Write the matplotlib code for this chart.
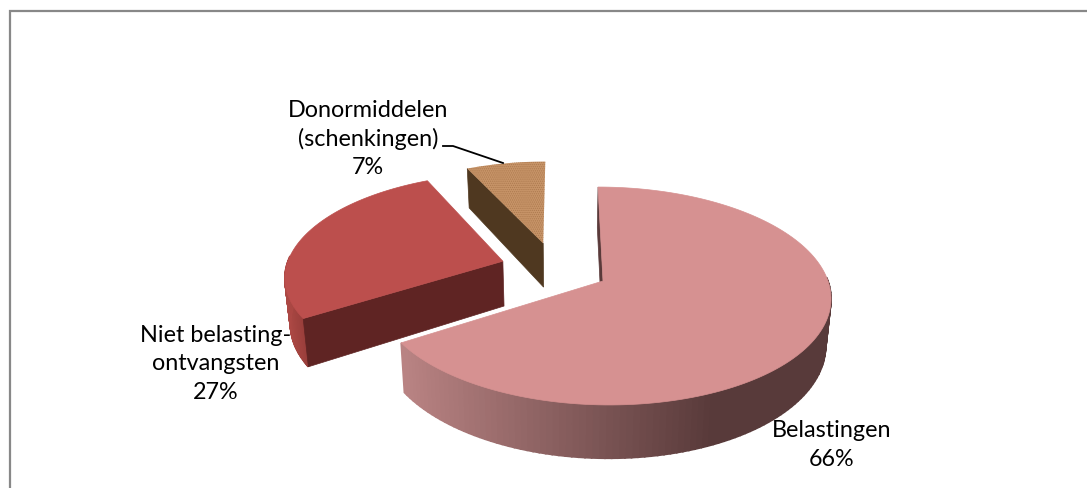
import numpy as np
import matplotlib
matplotlib.use('Agg')
import matplotlib.pyplot as plt
from matplotlib.patches import Polygon

plt.rcParams['font.family'] = ['Lato', 'DejaVu Sans']
plt.rcParams['hatch.linewidth'] = 0.6

labels = ['Belastingen\n66%', 'Niet belasting-\nontvangsten\n27%', 'Donormiddelen\n(schenkingen)\n7%']
values = [66, 27, 7]

top_colors = ['#d69191', '#bc4f4d', '#c79468']
face_colors = ['#5a3a3a', '#5f2423', '#4f3820']
rim_left = [np.array([186, 132, 132]) / 255, np.array([172, 72, 68]) / 255, np.array([80, 56, 32]) / 255]
rim_right = [np.array([88, 58, 58]) / 255, np.array([110, 40, 38]) / 255, np.array([80, 56, 32]) / 255]

# explode of each slice and its radius, in units of the pie radius
offsets = [(0.0, 0.0), (-0.452, -0.19), (-0.27, -0.37)]
radius = [1.0, 0.98, 0.95]

# the pie drawn in perspective, all in pixels of the picture
cx, cy = 603, 282
rx, ry = 225, 106.9
vx = 562
k = 0.1376
depth = 46


def project(u, v, bottom=False):
    s = 1 / (1 - k * v)
    if bottom:
        return vx + (cx - vx + rx * u) * s * 0.98, cy + ry * v * s + depth * s
    return vx + (cx - vx + rx * u) * s, cy + ry * v * s


fig = plt.figure(figsize=(10.87, 4.89), dpi=100)
ax = fig.add_axes([0, 0, 1, 1])
ax.set_xlim(0, 1087)
ax.set_ylim(489, 0)
ax.axis('off')

# frame, cut off at the bottom and on the right
ax.plot([10, 10, 1087], [489, 12, 12], color='#888888', lw=1.6, solid_joinstyle='miter')

for i in [2, 1, 0]:
    start = sum(values[:i]) / sum(values) * 2 * np.pi
    end = sum(values[:i + 1]) / sum(values) * 2 * np.pi
    du, dv = offsets[i]
    th = np.linspace(start, end, 160)
    u = radius[i] * np.sin(th) + du
    v = -radius[i] * np.cos(th) + dv
    tx, ty = project(u, v)
    bx, by = project(u, v, bottom=True)
    ax_x, ax_y = project(du, dv)
    ab_x, ab_y = project(du, dv, bottom=True)

    # outer side, shaded from left to right, only the part towards the viewer
    span = 315 if i == 0 else 60
    for j in range(len(th) - 1):
        if np.cos(th[j]) > 0.05:
            continue
        t = np.clip((tx[j] - tx.min()) / span, 0, 1)
        col = rim_left[i] * (1 - t) + rim_right[i] * t
        ax.add_patch(Polygon([(tx[j], ty[j]), (tx[j + 1], ty[j + 1]), (bx[j + 1], by[j + 1]), (bx[j], by[j])],
                             closed=True, fc=col, ec=col, lw=1.2))

    # the cut side that faces the viewer
    ax.add_patch(Polygon([(tx[0], ty[0]), (ax_x, ax_y), (ab_x, ab_y), (bx[0], by[0])],
                         closed=True, fc=face_colors[i], ec=face_colors[i], lw=0.5))

    top = list(zip(tx, ty)) + [(ax_x, ax_y)]
    if i == 2:
        # sandy texture on the small slice
        ax.add_patch(Polygon(top, closed=True, fc=top_colors[i], ec='#ad7a4f', hatch='........', lw=0))
    else:
        ax.add_patch(Polygon(top, closed=True, fc=top_colors[i], ec=top_colors[i], lw=0.5))

ax.text(832, 445, labels[0], ha='center', va='center', fontsize=16.8, color='black', linespacing=1.42)
ax.text(216, 364, labels[1], ha='center', va='center', fontsize=16.8, color='black', linespacing=1.42)
ax.text(368, 139, labels[2], ha='center', va='center', fontsize=16.8, color='black', linespacing=1.42)

# leader line
ax.plot([443, 453, 503], [147, 147, 164], color='black', lw=1.3)

fig.savefig('out.png', dpi=100)
